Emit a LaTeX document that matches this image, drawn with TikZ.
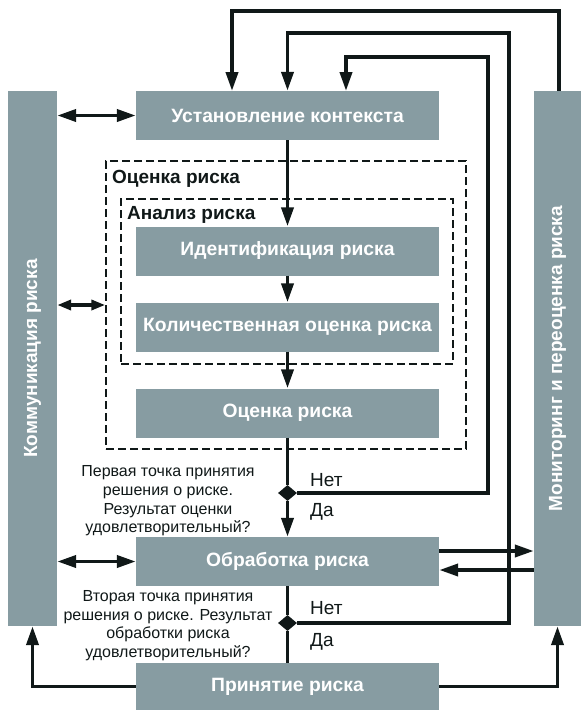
\documentclass[tikz,border=0pt]{standalone}
\usepackage{fontspec}
\setmainfont{Liberation Sans}
\usetikzlibrary{arrows.meta,shapes.geometric}
\definecolor{boxgray}{RGB}{135,156,162}
\definecolor{ink}{RGB}{16,24,24}
\begin{document}
\begin{tikzpicture}[x=1pt,y=-1pt,
  stepbox/.style={fill=boxgray, minimum width=303pt, minimum height=49pt, inner sep=0pt, text=white, font=\bfseries\fontsize{19.3}{22}\selectfont},
  barbox/.style={fill=boxgray, inner sep=0pt},
  bartext/.style={rotate=90, text=white, font=\bfseries\fontsize{19}{22}\selectfont},
  dashbox/.style={draw=ink, line width=1.5pt, dash pattern=on 8pt off 4pt, inner sep=0pt},
  grouplabel/.style={anchor=west, text=ink, font=\bfseries\fontsize{19}{22}\selectfont, inner sep=0pt},
  qtext/.style={align=center, text=ink, font=\fontsize{16}{18.6}\selectfont, inner sep=0pt},
  yn/.style={anchor=west, text=ink, font=\fontsize{19}{22}\selectfont, inner sep=0pt},
  conn/.style={draw=ink, line width=3.8pt},
  arr/.style={conn, -{Triangle[length=19pt,width=12pt]}},
  darr/.style={conn, {Triangle[length=19pt,width=12pt]}-{Triangle[length=19pt,width=12pt]}},
  sdarr/.style={conn, {Triangle[length=14pt,width=10pt]}-{Triangle[length=14pt,width=10pt]}},
  decision/.style={diamond, fill=ink, minimum width=19pt, minimum height=16pt, inner sep=0pt}
]
\useasboundingbox (0,0) rectangle (581,710);

% side bars
\node[barbox, minimum width=49pt, minimum height=535pt] (comm) at (32.5,358.5) {};
\node[bartext] (commtext) at (comm) {Коммуникация риска};
\node[barbox, minimum width=47pt, minimum height=535pt] (mon) at (557.5,358.5) {};
\node[bartext] (montext) at (mon) {Мониторинг и переоценка риска};

% dashed groups
\node[dashbox, minimum width=360pt, minimum height=288pt] (outer) at (286,305) {};
\node[dashbox, minimum width=332pt, minimum height=165pt] (inner) at (287,281.5) {};
\node[grouplabel] (outerlbl) at (112,179) {Оценка риска};
\node[grouplabel] (innerlbl) at (127,215) {Анализ риска};

% process boxes
\node[stepbox] (ctx) at (287.5,115.5) {Установление контекста};
\node[stepbox] (ident) at (287.5,251) {Идентификация риска};
\node[stepbox] (quant) at (287.5,327) {Количественная оценка риска};
\node[stepbox] (eval) at (287.5,413) {Оценка риска};
\node[stepbox] (treat) at (287.5,561.5) {Обработка риска};
\node[stepbox, minimum height=47pt] (accept) at (287.5,686.5) {Принятие риска};

% decisions
\node[decision] (d1) at (287.5,493) {};
\node[decision] (d2) at (287.5,623) {};

\node[qtext] (q1) at (168,501) {Первая точка принятия\\решения о риске.\\Результат оценки\\удовлетворительный?};
\node[qtext] (q2) at (168,625.5) {Вторая точка принятия\\решения о риске. Результат\\обработки риска\\удовлетворительный?};
\node[yn] (no1) at (310,480) {Нет};
\node[yn] (yes1) at (310,512) {Да};
\node[yn] (no2) at (310,608) {Нет};
\node[yn] (yes2) at (310,642) {Да};

% coordinates for loop corners
\coordinate (n1) at (488,57);
\coordinate (n2) at (509,33);
\coordinate (n3) at (559,11);
\coordinate (t1) at (346,91);
\coordinate (t3) at (232,91);

% main flow
\draw[arr] (ctx.south) -- (ident.north);
\draw[arr] (ident.south) -- (quant.north);
\draw[arr] (quant.south) -- (eval.north);
\draw[conn] (eval.south) -- (d1.north);
\draw[arr] (d1.south) -- (treat.north);
\draw[conn] (treat.south) -- (d2.north);
\draw[conn] (d2.south) -- (accept.north);

% feedback loops
\draw[arr] (d1.east) -| (n1) -| (t1);
\draw[arr] (d2.east) -| (n2) -| (ctx.north);
\draw[arr] (mon.north -| n3) |- (t3 |- n3) -- (t3);

% bottom returns
\draw[arr] (accept.west) -| (comm.south);
\draw[arr] (accept.east) -| (mon.south);

% treatment <-> monitoring
\draw[arr] ([yshift=10.5pt]treat.east) -- ([yshift=10.5pt]treat.east -| mon.west);
\draw[arr] ([yshift=-8.5pt]treat.east -| mon.west) -- ([yshift=-8.5pt]treat.east);

% communication
\draw[darr] (comm.east |- ctx.west) -- (ctx.west);
\draw[sdarr] (comm.east |- outer.west) -- (outer.west);
\draw[darr] (comm.east |- treat.west) -- (treat.west);
\end{tikzpicture}
\end{document}
